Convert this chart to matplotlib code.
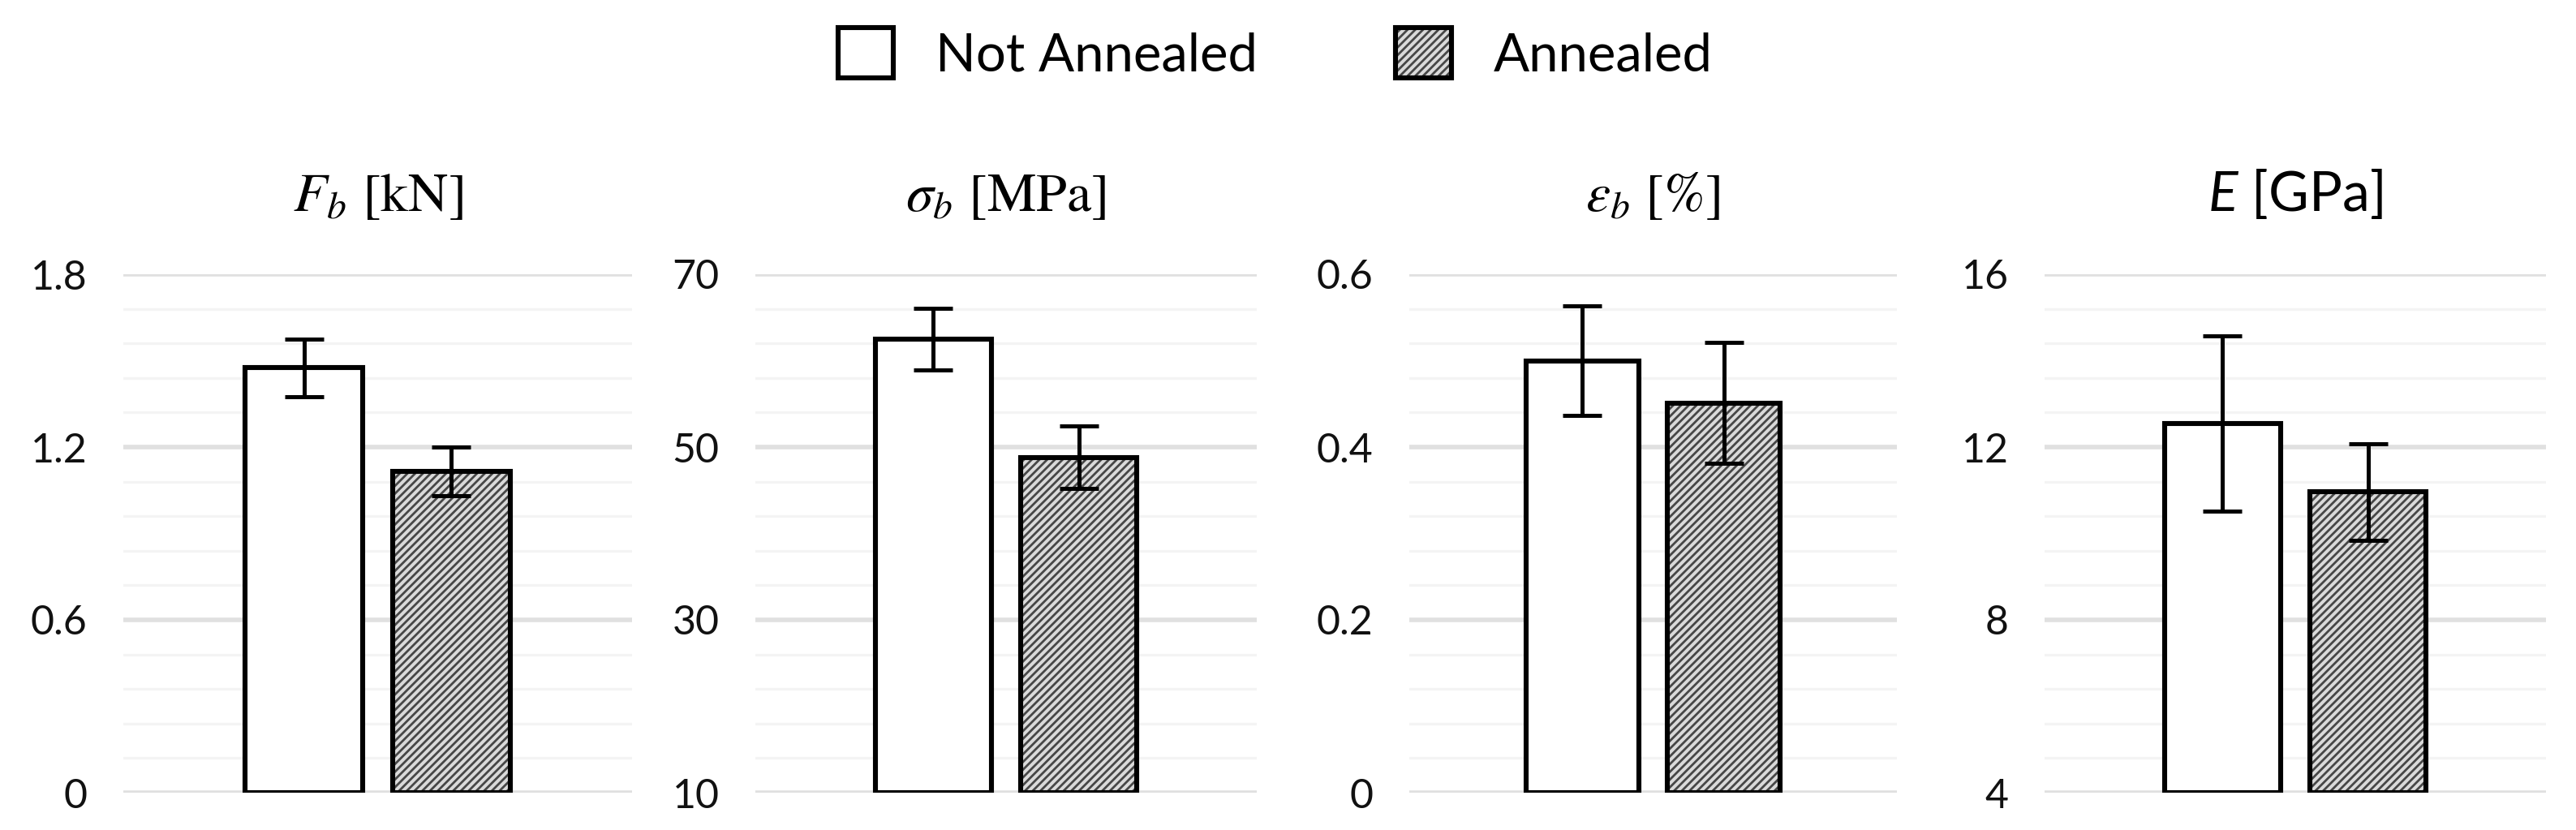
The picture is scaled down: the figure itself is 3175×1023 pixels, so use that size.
import numpy as np
import matplotlib
matplotlib.use("Agg")
import matplotlib.pyplot as plt
from matplotlib.patches import Patch
from matplotlib.ticker import AutoMinorLocator, FuncFormatter

# data
groups = ["Not Annealed", "Annealed"]
titles = [r"$F_b$ [kN]", r"$\sigma_b$ [MPa]", r"$\varepsilon_b$ [%]", r"$E$ [GPa]"]
fb_mean = [1.475, 1.115]
fb_err = [0.100, 0.085]
sig_mean = [62.5, 48.8]
sig_err = [3.6, 3.6]
eps_mean = [0.500, 0.451]
eps_err = [0.063, 0.070]
e_mean = [12.55, 10.96]
e_err = [2.03, 1.12]
ylims = [(0, 1.8), (10, 70), (0, 0.6), (4, 16)]
ysteps = [0.6, 20, 0.2, 4]

means = [fb_mean, sig_mean, eps_mean, e_mean]
errs = [fb_err, sig_err, eps_err, e_err]

plt.rcParams["font.family"] = "Lato"
plt.rcParams["mathtext.fontset"] = "custom"
plt.rcParams["mathtext.rm"] = "Lato"
plt.rcParams["mathtext.it"] = "Lato:italic"
plt.rcParams["hatch.linewidth"] = 1.0

W, H, DPI = 3175, 1023, 200
fig = plt.figure(figsize=(W / DPI, H / DPI), dpi=DPI)

# plot areas in pixels (left, width)
boxes = [(152, 627), (931, 618), (1737, 601), (2520, 618)]
top_px, bot_px = 338, 977

HATCH_FACE = "#dadada"
HATCH_INK = "#474747"
HATCH = "///////"
BW = 0.232
GAP = 0.058
xpos = np.array([0.5 - (BW + GAP) / 2, 0.5 + (BW + GAP) / 2])

for i in range(4):
    l, w = boxes[i]
    ax = fig.add_axes([l / W, 1 - bot_px / H, w / W, (bot_px - top_px) / H])
    y0, y1 = ylims[i]
    m = np.array(means[i])
    # hatched fill layer for the annealed bar, outlines drawn on top
    ax.bar(xpos[1], m[1] - y0, BW, bottom=y0, color=HATCH_FACE,
           edgecolor=HATCH_INK, lw=0, hatch=HATCH, zorder=2)
    ax.bar(xpos[0], m[0] - y0, BW, bottom=y0, color="white", lw=0, zorder=2)
    ax.bar(xpos, m - y0, BW, bottom=y0, fill=False, edgecolor="black",
           lw=2.2, zorder=3)
    ax.errorbar(xpos, m, yerr=errs[i], fmt="none", ecolor="black",
                elinewidth=1.8, capsize=8.5, capthick=1.8, zorder=4)
    ax.set_xlim(0, 1)
    ax.set_ylim(y0, y1)
    ax.set_yticks(np.arange(y0, y1 + ysteps[i] / 2, ysteps[i]))
    ax.yaxis.set_minor_locator(AutoMinorLocator(5))
    ax.yaxis.set_major_formatter(FuncFormatter(lambda v, p: f"{round(v, 6):g}"))
    ax.grid(axis="y", which="major", color="#e0e0e0", lw=2.0, zorder=0)
    ax.grid(axis="y", which="minor", color="#f4f4f4", lw=1.2, zorder=0)
    ax.set_axisbelow(True)
    ax.set_xticks([])
    for s in ax.spines.values():
        s.set_visible(False)
    ax.tick_params(axis="y", which="both", length=0, pad=16, labelsize=18,
                   labelcolor="#111111")
    if i < 3:
        ax.set_title(titles[i], fontsize=24.5, pad=28, math_fontfamily="stix",
                     fontfamily="STIXGeneral")
    else:
        ax.set_title(titles[i], fontsize=24.5, pad=28, math_fontfamily="custom")

h_plain = Patch(facecolor="white", edgecolor="black", lw=2.2)
h_hatch = (Patch(facecolor=HATCH_FACE, edgecolor=HATCH_INK, lw=0, hatch=HATCH),
           Patch(facecolor="none", edgecolor="black", lw=2.2))
fig.legend([h_plain, h_hatch], groups, loc="center", bbox_to_anchor=(0.495, 1 - 66 / H),
           ncol=2, frameon=False, fontsize=23.5, handlelength=1.05, handleheight=1.1,
           handletextpad=0.8, columnspacing=2.6)

fig.savefig("out.png", dpi=DPI, facecolor="white")
